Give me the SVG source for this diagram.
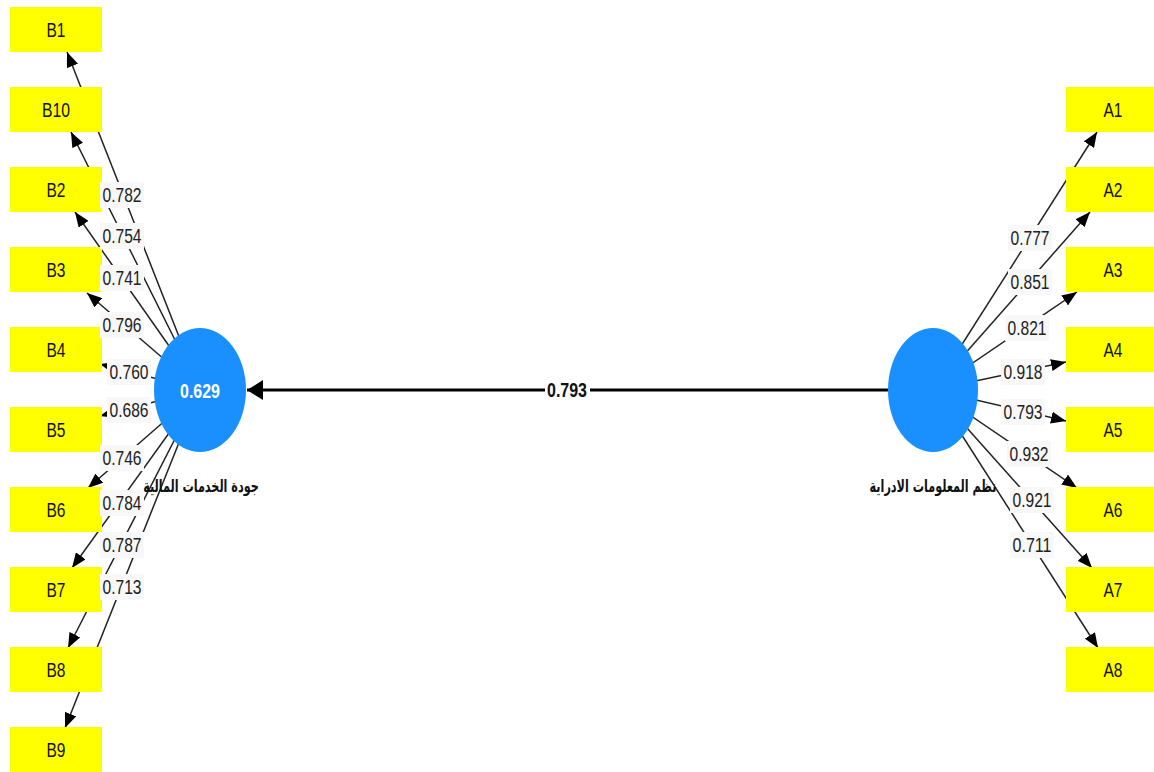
<svg xmlns="http://www.w3.org/2000/svg" width="1154" height="772" viewBox="0 0 1154 772">
<style>
.box{fill:#ffff00}
.bt{font-family:"Liberation Sans",Arial,sans-serif;font-size:20px;fill:#111;text-anchor:middle}
.lb{font-family:"Liberation Sans",Arial,sans-serif;font-size:20px;fill:#222;text-anchor:middle}
.lbg{fill:#f8f8f8}
.ln{stroke:#222;stroke-width:1.5;fill:none;marker-end:url(#ah)}
.lv{fill:#1a90ff}
.ar{font-family:"DejaVu Sans",sans-serif;font-size:17px;font-weight:bold;fill:#111;text-anchor:middle}
</style>
<defs>
<marker id="ah" viewBox="0 0 15 12" refX="15" refY="6" markerWidth="15" markerHeight="12" orient="auto" markerUnits="userSpaceOnUse"><path d="M0,0 L15,6 L0,12 z" fill="#000"/></marker>
<marker id="ahb" viewBox="0 0 16 20" refX="16" refY="10" markerWidth="16" markerHeight="20" orient="auto" markerUnits="userSpaceOnUse"><path d="M0,0 L16,10 L0,20 z" fill="#000"/></marker>
</defs>
<rect width="1154" height="772" fill="#fff"/>
<g id="connectors">
<line class="ln" x1="200" y1="390" x2="67" y2="52"/>
<line class="ln" x1="200" y1="390" x2="71" y2="132"/>
<line class="ln" x1="200" y1="390" x2="75" y2="212"/>
<line class="ln" x1="200" y1="390" x2="87" y2="293"/>
<line class="ln" x1="200" y1="390" x2="100" y2="364"/>
<line class="ln" x1="200" y1="390" x2="100" y2="416"/>
<line class="ln" x1="200" y1="390" x2="88" y2="488"/>
<line class="ln" x1="200" y1="390" x2="72" y2="568"/>
<line class="ln" x1="200" y1="390" x2="68" y2="648"/>
<line class="ln" x1="200" y1="390" x2="65" y2="728"/>
<line class="ln" x1="933" y1="390" x2="1097" y2="132"/>
<line class="ln" x1="933" y1="390" x2="1090" y2="212"/>
<line class="ln" x1="933" y1="390" x2="1077" y2="292"/>
<line class="ln" x1="933" y1="390" x2="1066" y2="362"/>
<line class="ln" x1="933" y1="390" x2="1066" y2="421"/>
<line class="ln" x1="933" y1="390" x2="1077" y2="488"/>
<line class="ln" x1="933" y1="390" x2="1092" y2="568"/>
<line class="ln" x1="933" y1="390" x2="1098" y2="648"/>
<line x1="888" y1="390" x2="247" y2="390" stroke="#000" stroke-width="3" marker-end="url(#ahb)"/>
</g>
<g id="node-quality">
<ellipse class="lv" cx="200" cy="390" rx="46" ry="62"/>
<text x="200" y="398" font-family="Liberation Sans,Arial,sans-serif" font-size="20" font-weight="bold" fill="#fff" text-anchor="middle" textLength="40" lengthAdjust="spacingAndGlyphs">0.629</text>
<text class="ar" transform="translate(201,492) scale(0.66,1)">جودة الخدمات المالية</text>
</g>
<g id="node-mis">
<ellipse class="lv" cx="933" cy="390" rx="45" ry="62"/>
<text class="ar" transform="translate(933,492) scale(0.66,1)">نظم المعلومات الادراية</text>
</g>
<g id="node-B1"><rect class="box" x="10" y="7" width="92" height="45"/><text class="bt" x="56" y="37" textLength="19" lengthAdjust="spacingAndGlyphs">B1</text></g>
<g id="node-B10"><rect class="box" x="10" y="87" width="92" height="45"/><text class="bt" x="56" y="117" textLength="28" lengthAdjust="spacingAndGlyphs">B10</text></g>
<g id="node-B2"><rect class="box" x="10" y="167" width="92" height="45"/><text class="bt" x="56" y="197" textLength="19" lengthAdjust="spacingAndGlyphs">B2</text></g>
<g id="node-B3"><rect class="box" x="10" y="247" width="92" height="45"/><text class="bt" x="56" y="277" textLength="19" lengthAdjust="spacingAndGlyphs">B3</text></g>
<g id="node-B4"><rect class="box" x="10" y="327" width="92" height="45"/><text class="bt" x="56" y="357" textLength="19" lengthAdjust="spacingAndGlyphs">B4</text></g>
<g id="node-B5"><rect class="box" x="10" y="407" width="92" height="45"/><text class="bt" x="56" y="437" textLength="19" lengthAdjust="spacingAndGlyphs">B5</text></g>
<g id="node-B6"><rect class="box" x="10" y="487" width="92" height="45"/><text class="bt" x="56" y="517" textLength="19" lengthAdjust="spacingAndGlyphs">B6</text></g>
<g id="node-B7"><rect class="box" x="10" y="567" width="92" height="45"/><text class="bt" x="56" y="597" textLength="19" lengthAdjust="spacingAndGlyphs">B7</text></g>
<g id="node-B8"><rect class="box" x="10" y="647" width="92" height="45"/><text class="bt" x="56" y="677" textLength="19" lengthAdjust="spacingAndGlyphs">B8</text></g>
<g id="node-B9"><rect class="box" x="10" y="727" width="92" height="45"/><text class="bt" x="56" y="757" textLength="19" lengthAdjust="spacingAndGlyphs">B9</text></g>
<g id="node-A1"><rect class="box" x="1066" y="87" width="92" height="45"/><text class="bt" x="1113" y="117" textLength="19" lengthAdjust="spacingAndGlyphs">A1</text></g>
<g id="node-A2"><rect class="box" x="1066" y="167" width="92" height="45"/><text class="bt" x="1113" y="197" textLength="19" lengthAdjust="spacingAndGlyphs">A2</text></g>
<g id="node-A3"><rect class="box" x="1066" y="247" width="92" height="45"/><text class="bt" x="1113" y="277" textLength="19" lengthAdjust="spacingAndGlyphs">A3</text></g>
<g id="node-A4"><rect class="box" x="1066" y="327" width="92" height="45"/><text class="bt" x="1113" y="357" textLength="19" lengthAdjust="spacingAndGlyphs">A4</text></g>
<g id="node-A5"><rect class="box" x="1066" y="407" width="92" height="45"/><text class="bt" x="1113" y="437" textLength="19" lengthAdjust="spacingAndGlyphs">A5</text></g>
<g id="node-A6"><rect class="box" x="1066" y="487" width="92" height="45"/><text class="bt" x="1113" y="517" textLength="19" lengthAdjust="spacingAndGlyphs">A6</text></g>
<g id="node-A7"><rect class="box" x="1066" y="567" width="92" height="45"/><text class="bt" x="1113" y="597" textLength="19" lengthAdjust="spacingAndGlyphs">A7</text></g>
<g id="node-A8"><rect class="box" x="1066" y="647" width="92" height="45"/><text class="bt" x="1113" y="677" textLength="19" lengthAdjust="spacingAndGlyphs">A8</text></g>
<g id="labels">
<rect class="lbg" x="100" y="182" width="44" height="26"/><text class="lb" x="122" y="202" textLength="39" lengthAdjust="spacingAndGlyphs">0.782</text>
<rect class="lbg" x="100" y="223" width="44" height="26"/><text class="lb" x="122" y="243" textLength="39" lengthAdjust="spacingAndGlyphs">0.754</text>
<rect class="lbg" x="100" y="265" width="44" height="26"/><text class="lb" x="122" y="285" textLength="39" lengthAdjust="spacingAndGlyphs">0.741</text>
<rect class="lbg" x="100" y="312" width="44" height="26"/><text class="lb" x="122" y="332" textLength="39" lengthAdjust="spacingAndGlyphs">0.796</text>
<rect class="lbg" x="107" y="359" width="44" height="26"/><text class="lb" x="129" y="379" textLength="39" lengthAdjust="spacingAndGlyphs">0.760</text>
<rect class="lbg" x="107" y="397" width="44" height="26"/><text class="lb" x="129" y="417" textLength="39" lengthAdjust="spacingAndGlyphs">0.686</text>
<rect class="lbg" x="100" y="445" width="44" height="26"/><text class="lb" x="122" y="465" textLength="39" lengthAdjust="spacingAndGlyphs">0.746</text>
<rect class="lbg" x="100" y="490" width="44" height="26"/><text class="lb" x="122" y="510" textLength="39" lengthAdjust="spacingAndGlyphs">0.784</text>
<rect class="lbg" x="100" y="532" width="44" height="26"/><text class="lb" x="122" y="552" textLength="39" lengthAdjust="spacingAndGlyphs">0.787</text>
<rect class="lbg" x="100" y="574" width="44" height="26"/><text class="lb" x="122" y="594" textLength="39" lengthAdjust="spacingAndGlyphs">0.713</text>
<rect class="lbg" x="1008" y="225" width="44" height="26"/><text class="lb" x="1030" y="245" textLength="39" lengthAdjust="spacingAndGlyphs">0.777</text>
<rect class="lbg" x="1008" y="269" width="44" height="26"/><text class="lb" x="1030" y="289" textLength="39" lengthAdjust="spacingAndGlyphs">0.851</text>
<rect class="lbg" x="1005" y="315" width="44" height="26"/><text class="lb" x="1027" y="335" textLength="39" lengthAdjust="spacingAndGlyphs">0.821</text>
<rect class="lbg" x="1001" y="359" width="44" height="26"/><text class="lb" x="1023" y="379" textLength="39" lengthAdjust="spacingAndGlyphs">0.918</text>
<rect class="lbg" x="1001" y="399" width="44" height="26"/><text class="lb" x="1023" y="419" textLength="39" lengthAdjust="spacingAndGlyphs">0.793</text>
<rect class="lbg" x="1007" y="441" width="44" height="26"/><text class="lb" x="1029" y="461" textLength="39" lengthAdjust="spacingAndGlyphs">0.932</text>
<rect class="lbg" x="1010" y="487" width="44" height="26"/><text class="lb" x="1032" y="507" textLength="39" lengthAdjust="spacingAndGlyphs">0.921</text>
<rect class="lbg" x="1010" y="532" width="44" height="26"/><text class="lb" x="1032" y="552" textLength="39" lengthAdjust="spacingAndGlyphs">0.711</text>
<rect fill="#fff" x="545" y="377" width="45" height="26"/><text x="567" y="397" font-family="Liberation Sans,Arial,sans-serif" font-size="20" font-weight="bold" fill="#111" text-anchor="middle" textLength="40" lengthAdjust="spacingAndGlyphs">0.793</text>
</g>
</svg>
